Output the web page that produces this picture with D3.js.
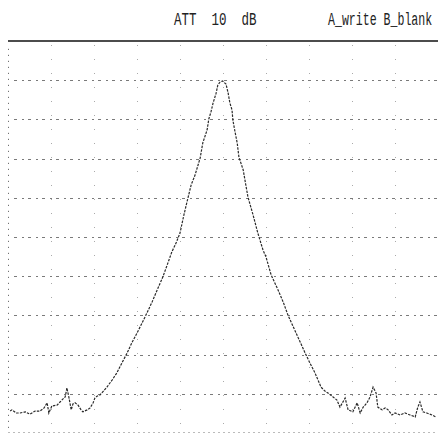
<!DOCTYPE html>
<html><head><meta charset="utf-8">
<script src="https://cdn.jsdelivr.net/npm/d3@7"></script>
<style>html,body{margin:0;padding:0;background:#fff;}svg{display:block;}</style>
</head><body>
<script>
// Header texts
const titleLeft = "ATT  10  dB";
const titleRight = "A_write B_blank";
// Grid: 10 horizontal divisions (dB), 10 vertical divisions (frequency)
const yTicks = [-10,-20,-30,-40,-50,-60,-70,-80,-90];
const xTicks = [1,2,3,4,5,6,7,8,9];
// Trace: frequency (divisions) and level (dB)
const freq = [0.05,0.09,0.19,0.28,0.40,0.51,0.63,0.74,0.84,0.91,0.95,1.02,1.14,1.21,1.28,1.33,1.37,1.42,1.47,1.51,1.56,1.63,1.70,1.74,1.84,1.91,1.98,2.02,2.07,2.14,2.30,2.42,2.53,2.65,2.77,2.88,3.00,3.12,3.23,3.35,3.47,3.60,3.72,3.81,3.91,4.00,4.09,4.19,4.26,4.35,4.47,4.53,4.63,4.67,4.72,4.77,4.84,4.88,4.93,4.99,5.02,5.07,5.12,5.16,5.21,5.23,5.28,5.33,5.37,5.47,5.53,5.58,5.70,5.81,5.93,6.00,6.12,6.28,6.40,6.51,6.70,6.91,7.02,7.14,7.28,7.37,7.44,7.56,7.65,7.72,7.84,7.91,8.02,8.12,8.19,8.26,8.35,8.42,8.49,8.56,8.60,8.70,8.77,8.84,8.93,9.00,9.12,9.23,9.35,9.47,9.53,9.58,9.65,9.74,9.86,9.95];
const level = [-94.4,-94.1,-94.9,-94.9,-94.6,-95.2,-94.4,-94.4,-93.6,-92.3,-94.9,-93.1,-92.9,-92.1,-91.3,-90.8,-88.5,-91.1,-94.1,-92.6,-92.3,-92.9,-94.1,-94.6,-94.1,-93.6,-92.3,-91.1,-90.6,-90.3,-88.3,-86.5,-84.7,-82.1,-79.6,-77.0,-74.5,-71.9,-69.4,-66.6,-63.5,-60.2,-56.6,-53.8,-51.5,-49.0,-44.4,-39.8,-36.7,-34.2,-29.8,-26.0,-22.7,-19.9,-18.1,-15.8,-13.3,-11.2,-10.5,-10.2,-10.5,-11.0,-13.3,-15.8,-17.6,-20.2,-23.2,-26.0,-29.6,-32.9,-36.7,-39.8,-44.4,-49.0,-53.3,-55.1,-59.7,-63.5,-66.6,-69.9,-74.5,-79.6,-82.1,-84.7,-88.3,-89.3,-89.8,-90.8,-91.6,-93.4,-91.1,-94.1,-94.6,-92.3,-94.9,-93.4,-92.3,-90.8,-88.3,-89.8,-93.4,-94.1,-93.6,-94.1,-95.4,-94.9,-95.4,-94.9,-95.4,-95.9,-93.4,-92.1,-94.6,-94.9,-95.4,-95.9];

const W = 438, H = 433;
const svg = d3.select("body").append("svg").attr("width", W).attr("height", H);

const x = d3.scaleLinear().domain([0, 10]).range([8, 438]);
const y = d3.scaleLinear().domain([-100, 0]).range([433, 41]);

// horizontal dotted grid
svg.append("g").selectAll("line").data(yTicks).join("line")
  .attr("x1", x(0) + 6).attr("x2", x(10))
  .attr("y1", d => Math.round(y(d)) + 0.5).attr("y2", d => Math.round(y(d)) + 0.5)
  .attr("stroke", "#7a7a7a").attr("stroke-width", 1)
  .attr("stroke-dasharray", "3,5,2,4");

// vertical dotted grid
svg.append("g").selectAll("line").data(xTicks).join("line")
  .attr("x1", d => Math.round(x(d)) + 0.5).attr("x2", d => Math.round(x(d)) + 0.5)
  .attr("y1", y(0) + 4).attr("y2", y(-100))
  .attr("stroke", "#aaa").attr("stroke-width", 1)
  .attr("stroke-dasharray", "1,13");

// left edge dotted
svg.append("line")
  .attr("x1", x(0) + 0.5).attr("x2", x(0) + 0.5)
  .attr("y1", y(-2)).attr("y2", y(-100))
  .attr("stroke", "#555").attr("stroke-width", 1)
  .attr("stroke-dasharray", "1,5");

// bottom faint dotted
svg.append("line")
  .attr("x1", x(0)).attr("x2", x(10))
  .attr("y1", y(-100) - 0.5).attr("y2", y(-100) - 0.5)
  .attr("stroke", "#bbb").attr("stroke-width", 1)
  .attr("stroke-dasharray", "2,3");

// top solid line
svg.append("line")
  .attr("x1", x(0)).attr("x2", x(10))
  .attr("y1", y(0)).attr("y2", y(0))
  .attr("stroke", "#111").attr("stroke-width", 1.5);

// header text
function header(txt, x0, adv) {
  svg.append("text")
    .attr("transform", `translate(${x0},25) scale(${adv / 11.4},1)`)
    .attr("font-family", "Liberation Mono, DejaVu Sans Mono, monospace")
    .attr("font-size", 19)
    .attr("fill", "#222")
    .style("white-space", "pre")
    .attr("xml:space", "preserve")
    .text(txt);
}
header(titleLeft, 174, 7.5);
header(titleRight, 328, 6.95);

// trace
const pts = freq.map((f, i) => [f, level[i]]);
const line = d3.line().x(d => x(d[0])).y(d => y(d[1]));
svg.append("path").datum(pts)
  .attr("d", line)
  .attr("fill", "none")
  .attr("stroke", "#2a2a2a").attr("stroke-width", 1.2)
  .attr("stroke-dasharray", "2.5,1.2");
</script>
</body></html>
